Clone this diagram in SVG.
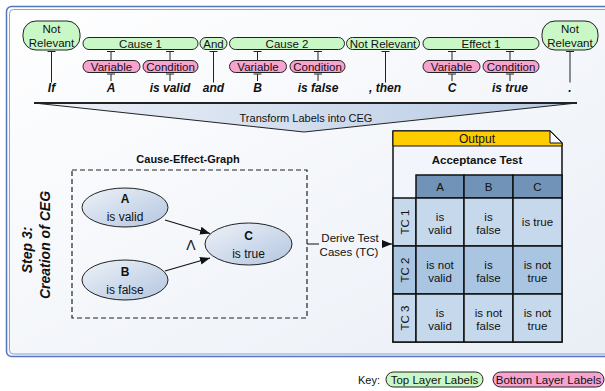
<svg xmlns="http://www.w3.org/2000/svg" width="605" height="391" viewBox="0 0 605 391">
<defs>
<linearGradient id="panelBg" x1="0" y1="0" x2="1" y2="1">
<stop offset="0" stop-color="#ffffff"/>
<stop offset="1" stop-color="#e9eef6"/>
</linearGradient>
<linearGradient id="funnelBg" x1="0" y1="0" x2="1" y2="0">
<stop offset="0" stop-color="#edf1f8"/>
<stop offset="1" stop-color="#b6c9e3"/>
</linearGradient>
<linearGradient id="ellBg" x1="0" y1="0" x2="1" y2="1">
<stop offset="0" stop-color="#eef2f8"/>
<stop offset="1" stop-color="#b3c6e0"/>
</linearGradient>
<marker id="arr" viewBox="0 0 10 8" refX="10" refY="4" markerWidth="10" markerHeight="8" markerUnits="userSpaceOnUse" orient="auto">
<path d="M0,0 L10,4 L0,8 Z" fill="#111"/>
</marker>
</defs>
<style>
text{font-family:"Liberation Sans",Arial,sans-serif;fill:#111}
.lbl{font-size:11.5px;text-anchor:middle}
.word{font-size:12px;font-weight:bold;font-style:italic;text-anchor:middle}
.top{fill:#c9f8c6;stroke:#222;stroke-width:1}
.bot{fill:#f7a3d0;stroke:#222;stroke-width:1}
.tick{stroke:#222;stroke-width:1;fill:none}
.ell{fill:url(#ellBg);stroke:#222;stroke-width:1}
.et{font-size:12px;text-anchor:middle}
.cell1{fill:#c6d8ec;stroke:#111;stroke-width:1.5}
.cell2{fill:#a9c5e1;stroke:#111;stroke-width:1.5}
.hdr{fill:#7193b7;stroke:#111;stroke-width:1.5}
.ct{font-size:11.5px;text-anchor:middle}
.conn{stroke:#111;stroke-width:1.2;fill:none}
</style>

<g id="panel">
<rect x="6.5" y="6.5" width="640" height="350" rx="5" fill="url(#panelBg)" stroke="#5575c0" stroke-width="1.5"/>
<rect x="9.5" y="9.5" width="640" height="344.5" rx="4" fill="none" stroke="#8aa3d8" stroke-width="1"/>
</g>

<g id="step-title">
<text transform="translate(32,250) rotate(-90)" text-anchor="middle" font-size="14" font-weight="bold" font-style="italic">Step 3:</text>
<text transform="translate(50,245) rotate(-90)" text-anchor="middle" font-size="14" font-weight="bold" font-style="italic">Creation of CEG</text>
</g>

<g id="top-labels">
<g id="nr-left"><rect class="top" x="23" y="21" width="57" height="29" rx="13"/><text class="lbl" x="51.5" y="33">Not</text><text class="lbl" x="51.5" y="47">Relevant</text></g>
<g id="cause1"><rect class="top" x="83" y="37.5" width="115" height="12" rx="6"/><text class="lbl" x="140.5" y="47.5">Cause 1</text></g>
<g id="and"><rect class="top" x="200" y="37.5" width="27" height="12" rx="6"/><text class="lbl" x="213.5" y="47.5">And</text></g>
<g id="cause2"><rect class="top" x="229.5" y="37.5" width="115" height="12" rx="6"/><text class="lbl" x="287" y="47.5">Cause 2</text></g>
<g id="nr-mid"><rect class="top" x="346.5" y="37.5" width="73" height="12" rx="6"/><text class="lbl" x="383" y="47.5">Not Relevant</text></g>
<g id="effect1"><rect class="top" x="423" y="37.5" width="116" height="12" rx="6"/><text class="lbl" x="481" y="47.5">Effect 1</text></g>
<g id="nr-right"><rect class="top" x="542" y="21" width="56" height="29" rx="13"/><text class="lbl" x="570" y="33">Not</text><text class="lbl" x="570" y="47">Relevant</text></g>
</g>

<g id="bottom-labels">
<g id="var1"><rect class="bot" x="83" y="60.5" width="57" height="12" rx="6"/><text class="lbl" x="111.5" y="70.5">Variable</text></g>
<g id="cond1"><rect class="bot" x="143" y="60.5" width="55" height="12" rx="6"/><text class="lbl" x="170.5" y="70.5">Condition</text></g>
<g id="var2"><rect class="bot" x="229.5" y="60.5" width="57" height="12" rx="6"/><text class="lbl" x="258" y="70.5">Variable</text></g>
<g id="cond2"><rect class="bot" x="290" y="60.5" width="55" height="12" rx="6"/><text class="lbl" x="317.5" y="70.5">Condition</text></g>
<g id="var3"><rect class="bot" x="423" y="60.5" width="57" height="12" rx="6"/><text class="lbl" x="451.5" y="70.5">Variable</text></g>
<g id="cond3"><rect class="bot" x="483" y="60.5" width="56" height="12" rx="6"/><text class="lbl" x="511" y="70.5">Condition</text></g>
</g>

<g id="words">
<text class="word" x="51.5" y="91.5">If</text>
<text class="word" x="111" y="91.5">A</text>
<text class="word" x="170" y="91.5">is valid</text>
<text class="word" x="213.5" y="91.5">and</text>
<text class="word" x="257.5" y="91.5">B</text>
<text class="word" x="318" y="91.5">is false</text>
<text class="word" x="385" y="91.5">, then</text>
<text class="word" x="452" y="91.5">C</text>
<text class="word" x="510" y="91.5">is true</text>
<text class="word" x="570" y="91.5">.</text>
</g>

<g id="label-connectors">
<path class="tick" d="M47.5,51.5 H55.5 M51.5,51.5 V82.5"/>
<path class="tick" d="M566,51.5 H574 M570,51.5 V82.5"/>
<path class="tick" d="M209.5,51.5 H217.5 M213.5,51.5 V82.5"/>
<path class="tick" d="M381.5,51.5 H389.5 M385.5,51.5 V82.5"/>
<path class="tick" d="M107,51.5 H115 M111,51.5 V60.5"/>
<path class="tick" d="M166,51.5 H174 M170,51.5 V60.5"/>
<path class="tick" d="M253.5,51.5 H261.5 M257.5,51.5 V60.5"/>
<path class="tick" d="M314,51.5 H322 M318,51.5 V60.5"/>
<path class="tick" d="M448,51.5 H456 M452,51.5 V60.5"/>
<path class="tick" d="M506,51.5 H514 M510,51.5 V60.5"/>
<path class="tick" d="M107,74 H115 M111,74 V81"/>
<path class="tick" d="M166,74 H174 M170,74 V81"/>
<path class="tick" d="M253.5,74 H261.5 M257.5,74 V81"/>
<path class="tick" d="M314,74 H322 M318,74 V81"/>
<path class="tick" d="M448,74 H456 M452,74 V81"/>
<path class="tick" d="M506,74 H514 M510,74 V81"/>
</g>

<g id="transform">
<path d="M34,103 L577,103 L304,132 Z" fill="url(#funnelBg)" stroke="#222" stroke-width="1" stroke-linejoin="miter"/>
<path d="M34,103 L577,103" stroke="#222" stroke-width="2"/>
<text x="306" y="122" text-anchor="middle" font-size="11">Transform Labels into CEG</text>
</g>

<g id="ceg">
<text x="188" y="163" text-anchor="middle" font-size="11" font-weight="bold">Cause-Effect-Graph</text>
<rect x="72" y="170" width="235" height="148" fill="none" stroke="#222" stroke-width="1.2" stroke-dasharray="5,3"/>
<g id="nodeA"><ellipse class="ell" cx="125" cy="207.5" rx="43" ry="19.5"/><text class="et" x="125" y="202.5" font-weight="bold">A</text><text class="et" x="125" y="220.5">is valid</text></g>
<g id="nodeB"><ellipse class="ell" cx="125" cy="280" rx="43" ry="20"/><text class="et" x="125" y="275.5" font-weight="bold">B</text><text class="et" x="125" y="293.5">is false</text></g>
<g id="nodeC"><ellipse class="ell" cx="248.5" cy="244" rx="43.5" ry="21"/><text class="et" x="248.5" y="239.5" font-weight="bold">C</text><text class="et" x="248.5" y="257.5">is true</text></g>
<text x="191" y="250" text-anchor="middle" font-size="14">Λ</text>
</g>

<g id="connectors">
<line class="conn" x1="165" y1="220" x2="210" y2="233.5" marker-end="url(#arr)"/>
<line class="conn" x1="165" y1="271" x2="210" y2="258" marker-end="url(#arr)"/>
<line class="conn" x1="307" y1="244" x2="392" y2="244" marker-end="url(#arr)"/>
<rect x="319" y="232" width="63" height="27" fill="#f2f5fa"/>
<text x="350" y="242" text-anchor="middle" font-size="11.5">Derive Test</text>
<text x="349" y="256" text-anchor="middle" font-size="11.5">Cases (TC)</text>
</g>

<g id="output-table">
<path d="M393,131 H550 L562,143 V342 H393 Z" fill="#f2f6fc" stroke="#111" stroke-width="1.5"/>
<path d="M393,131 H550 L562,143 V146 H393 Z" fill="#ffcc00" stroke="#111" stroke-width="1"/>
<path d="M550,131 V143 H562 Z" fill="#ffffff" stroke="#111" stroke-width="1"/>
<text x="477" y="143" text-anchor="middle" font-size="12">Output</text>
<text x="477" y="164" text-anchor="middle" font-size="11.5" font-weight="bold">Acceptance Test</text>
<rect class="hdr" x="416" y="175" width="48" height="23"/>
<rect class="hdr" x="464" y="175" width="49" height="23"/>
<rect class="hdr" x="513" y="175" width="49" height="23"/>
<text class="ct" x="440" y="191">A</text>
<text class="ct" x="488.5" y="191">B</text>
<text class="ct" x="537.5" y="191">C</text>
<rect class="cell1" x="393" y="198" width="23" height="48"/>
<rect class="cell1" x="416" y="198" width="48" height="48"/>
<rect class="cell1" x="464" y="198" width="49" height="48"/>
<rect class="cell1" x="513" y="198" width="49" height="48"/>
<rect class="cell2" x="393" y="246" width="23" height="48"/>
<rect class="cell2" x="416" y="246" width="48" height="48"/>
<rect class="cell2" x="464" y="246" width="49" height="48"/>
<rect class="cell2" x="513" y="246" width="49" height="48"/>
<rect class="cell1" x="393" y="294" width="23" height="48"/>
<rect class="cell1" x="416" y="294" width="48" height="48"/>
<rect class="cell1" x="464" y="294" width="49" height="48"/>
<rect class="cell1" x="513" y="294" width="49" height="48"/>
<text class="ct" transform="translate(408.5,222) rotate(-90)">TC 1</text>
<text class="ct" transform="translate(408.5,270) rotate(-90)">TC 2</text>
<text class="ct" transform="translate(408.5,318) rotate(-90)">TC 3</text>
<text class="ct" x="440" y="220.5">is</text><text class="ct" x="440" y="234">valid</text>
<text class="ct" x="488.5" y="220.5">is</text><text class="ct" x="488.5" y="234">false</text>
<text class="ct" x="537.5" y="226">is true</text>
<text class="ct" x="440" y="268.5">is not</text><text class="ct" x="440" y="282">valid</text>
<text class="ct" x="488.5" y="268.5">is</text><text class="ct" x="488.5" y="282">false</text>
<text class="ct" x="537.5" y="268.5">is not</text><text class="ct" x="537.5" y="282">true</text>
<text class="ct" x="440" y="316.5">is</text><text class="ct" x="440" y="330">valid</text>
<text class="ct" x="488.5" y="316.5">is not</text><text class="ct" x="488.5" y="330">false</text>
<text class="ct" x="537.5" y="316.5">is not</text><text class="ct" x="537.5" y="330">true</text>
</g>

<g id="key">
<text x="358" y="383.5" font-size="11">Key:</text>
<g id="key-top"><rect class="top" x="386" y="372" width="97" height="15" rx="7.5"/><text class="lbl" x="434.5" y="383.5">Top Layer Labels</text></g>
<g id="key-bottom"><rect class="bot" x="493" y="372" width="111" height="15" rx="7.5"/><text class="lbl" x="548.5" y="383.5">Bottom Layer Labels</text></g>
</g>
</svg>
